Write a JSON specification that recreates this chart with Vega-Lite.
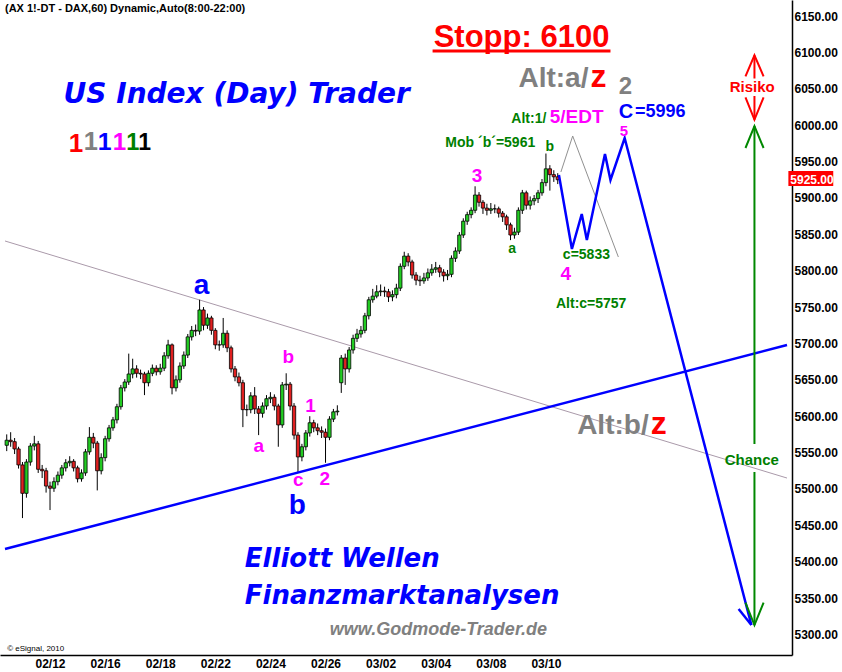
{
"$schema":"https://vega.github.io/schema/vega-lite/v6.json",
"width":792,"height":655,
"autosize":{"type":"none"},
"padding":{"left":0,"top":0,"right":50,"bottom":17},
"background":"white",
"config":{"view":{"stroke":null},"axis":{"grid":false,"ticks":false,"labelFont":"Liberation Sans","labelFontSize":12,"labelFontWeight":"bold","labelColor":"#000","domain":true,"domainColor":"#000","domainWidth":1.5,"title":null}},
"datasets":{
"bars":[
{"i":0,"o":5560,"h":5575,"l":5552,"c":5567},{"i":1,"o":5567,"h":5578,"l":5558,"c":5565},{"i":2,"o":5565,"h":5570,"l":5548,"c":5555},{"i":3,"o":5555,"h":5558,"l":5528,"c":5533},{"i":4,"o":5533,"h":5537,"l":5460,"c":5494},{"i":5,"o":5494,"h":5541,"l":5488,"c":5537},{"i":6,"o":5537,"h":5563,"l":5532,"c":5559},{"i":7,"o":5559,"h":5573,"l":5553,"c":5562},{"i":8,"o":5562,"h":5566,"l":5522,"c":5527},{"i":9,"o":5527,"h":5533,"l":5515,"c":5525},
{"i":10,"o":5525,"h":5529,"l":5495,"c":5504},{"i":11,"o":5504,"h":5510,"l":5471,"c":5501},{"i":12,"o":5501,"h":5516,"l":5496,"c":5510},{"i":13,"o":5510,"h":5524,"l":5505,"c":5519},{"i":14,"o":5519,"h":5533,"l":5514,"c":5529},{"i":15,"o":5529,"h":5541,"l":5524,"c":5536},{"i":16,"o":5536,"h":5545,"l":5531,"c":5538},{"i":17,"o":5538,"h":5541,"l":5524,"c":5529},{"i":18,"o":5529,"h":5532,"l":5509,"c":5514},{"i":19,"o":5514,"h":5527,"l":5510,"c":5522},
{"i":20,"o":5522,"h":5555,"l":5518,"c":5551},{"i":21,"o":5551,"h":5585,"l":5547,"c":5571},{"i":22,"o":5571,"h":5577,"l":5556,"c":5563},{"i":23,"o":5563,"h":5566,"l":5498,"c":5525},{"i":24,"o":5525,"h":5549,"l":5520,"c":5543},{"i":25,"o":5543,"h":5573,"l":5538,"c":5569},{"i":26,"o":5569,"h":5588,"l":5565,"c":5584},{"i":27,"o":5584,"h":5599,"l":5580,"c":5595},{"i":28,"o":5595,"h":5617,"l":5590,"c":5613},{"i":29,"o":5613,"h":5643,"l":5609,"c":5639},
{"i":30,"o":5639,"h":5651,"l":5634,"c":5647},{"i":31,"o":5647,"h":5686,"l":5643,"c":5658},{"i":32,"o":5658,"h":5679,"l":5652,"c":5665},{"i":33,"o":5665,"h":5670,"l":5653,"c":5659},{"i":34,"o":5659,"h":5664,"l":5651,"c":5658},{"i":35,"o":5658,"h":5661,"l":5629,"c":5646},{"i":36,"o":5646,"h":5663,"l":5641,"c":5659},{"i":37,"o":5659,"h":5671,"l":5655,"c":5666},{"i":38,"o":5666,"h":5670,"l":5656,"c":5661},{"i":39,"o":5661,"h":5672,"l":5657,"c":5666},
{"i":40,"o":5666,"h":5688,"l":5662,"c":5683},{"i":41,"o":5683,"h":5705,"l":5679,"c":5698},{"i":42,"o":5698,"h":5700,"l":5630,"c":5639},{"i":43,"o":5639,"h":5656,"l":5634,"c":5650},{"i":44,"o":5650,"h":5674,"l":5646,"c":5669},{"i":45,"o":5669,"h":5689,"l":5665,"c":5684},{"i":46,"o":5684,"h":5713,"l":5680,"c":5709},{"i":47,"o":5709,"h":5724,"l":5704,"c":5718},{"i":48,"o":5718,"h":5726,"l":5710,"c":5717},{"i":49,"o":5717,"h":5760,"l":5712,"c":5746},
{"i":50,"o":5746,"h":5750,"l":5718,"c":5725},{"i":51,"o":5725,"h":5741,"l":5720,"c":5735},{"i":52,"o":5735,"h":5738,"l":5712,"c":5718},{"i":53,"o":5718,"h":5721,"l":5692,"c":5698},{"i":54,"o":5698,"h":5704,"l":5690,"c":5698},{"i":55,"o":5698,"h":5735,"l":5694,"c":5714},{"i":56,"o":5714,"h":5718,"l":5688,"c":5694},{"i":57,"o":5694,"h":5697,"l":5660,"c":5665},{"i":58,"o":5665,"h":5669,"l":5648,"c":5654},{"i":59,"o":5654,"h":5660,"l":5641,"c":5646},
{"i":60,"o":5646,"h":5650,"l":5585,"c":5609},{"i":61,"o":5609,"h":5616,"l":5600,"c":5609},{"i":62,"o":5609,"h":5633,"l":5604,"c":5628},{"i":63,"o":5628,"h":5640,"l":5603,"c":5610},{"i":64,"o":5610,"h":5614,"l":5574,"c":5604},{"i":65,"o":5604,"h":5619,"l":5598,"c":5614},{"i":66,"o":5614,"h":5629,"l":5609,"c":5624},{"i":67,"o":5624,"h":5633,"l":5618,"c":5626},{"i":68,"o":5626,"h":5630,"l":5608,"c":5614},{"i":69,"o":5614,"h":5617,"l":5558,"c":5588},
{"i":70,"o":5588,"h":5647,"l":5584,"c":5643},{"i":71,"o":5643,"h":5659,"l":5636,"c":5644},{"i":72,"o":5644,"h":5647,"l":5608,"c":5614},{"i":73,"o":5614,"h":5618,"l":5568,"c":5574},{"i":74,"o":5574,"h":5578,"l":5522,"c":5544},{"i":75,"o":5544,"h":5562,"l":5538,"c":5558},{"i":76,"o":5558,"h":5581,"l":5553,"c":5577},{"i":77,"o":5577,"h":5600,"l":5572,"c":5591},{"i":78,"o":5591,"h":5595,"l":5578,"c":5584},{"i":79,"o":5584,"h":5590,"l":5574,"c":5580},
{"i":80,"o":5580,"h":5586,"l":5570,"c":5578},{"i":81,"o":5578,"h":5583,"l":5536,"c":5571},{"i":82,"o":5571,"h":5600,"l":5567,"c":5596},{"i":83,"o":5596,"h":5610,"l":5592,"c":5606},{"i":84,"o":5606,"h":5615,"l":5601,"c":5607},{"i":85,"o":5646,"h":5684,"l":5632,"c":5680},{"i":86,"o":5680,"h":5686,"l":5643,"c":5665},{"i":87,"o":5665,"h":5695,"l":5660,"c":5691},{"i":88,"o":5691,"h":5712,"l":5686,"c":5707},{"i":89,"o":5707,"h":5720,"l":5702,"c":5713},
{"i":90,"o":5713,"h":5724,"l":5708,"c":5718},{"i":91,"o":5718,"h":5742,"l":5714,"c":5738},{"i":92,"o":5738,"h":5764,"l":5733,"c":5760},{"i":93,"o":5760,"h":5775,"l":5756,"c":5765},{"i":94,"o":5765,"h":5780,"l":5762,"c":5771},{"i":95,"o":5771,"h":5781,"l":5765,"c":5772},{"i":96,"o":5772,"h":5778,"l":5764,"c":5771},{"i":97,"o":5771,"h":5775,"l":5757,"c":5764},{"i":98,"o":5764,"h":5773,"l":5758,"c":5767},{"i":99,"o":5767,"h":5782,"l":5762,"c":5776},
{"i":100,"o":5776,"h":5810,"l":5772,"c":5806},{"i":101,"o":5806,"h":5826,"l":5802,"c":5820},{"i":102,"o":5820,"h":5824,"l":5806,"c":5812},{"i":103,"o":5812,"h":5815,"l":5789,"c":5794},{"i":104,"o":5794,"h":5798,"l":5780,"c":5787},{"i":105,"o":5787,"h":5793,"l":5779,"c":5786},{"i":106,"o":5786,"h":5797,"l":5782,"c":5790},{"i":107,"o":5790,"h":5803,"l":5786,"c":5797},{"i":108,"o":5797,"h":5809,"l":5793,"c":5802},{"i":109,"o":5802,"h":5812,"l":5797,"c":5804},
{"i":110,"o":5804,"h":5808,"l":5791,"c":5798},{"i":111,"o":5798,"h":5802,"l":5785,"c":5793},{"i":112,"o":5793,"h":5801,"l":5787,"c":5795},{"i":113,"o":5795,"h":5821,"l":5791,"c":5817},{"i":114,"o":5817,"h":5832,"l":5812,"c":5827},{"i":115,"o":5827,"h":5853,"l":5823,"c":5849},{"i":116,"o":5849,"h":5872,"l":5845,"c":5868},{"i":117,"o":5868,"h":5881,"l":5863,"c":5877},{"i":118,"o":5877,"h":5887,"l":5872,"c":5883},{"i":119,"o":5883,"h":5916,"l":5879,"c":5904},
{"i":120,"o":5904,"h":5908,"l":5888,"c":5894},{"i":121,"o":5894,"h":5897,"l":5878,"c":5886},{"i":122,"o":5886,"h":5892,"l":5876,"c":5883},{"i":123,"o":5883,"h":5893,"l":5878,"c":5885},{"i":124,"o":5885,"h":5891,"l":5879,"c":5885},{"i":125,"o":5885,"h":5888,"l":5873,"c":5879},{"i":126,"o":5879,"h":5882,"l":5867,"c":5874},{"i":127,"o":5874,"h":5877,"l":5856,"c":5863},{"i":128,"o":5863,"h":5866,"l":5842,"c":5849},{"i":129,"o":5849,"h":5859,"l":5844,"c":5853},
{"i":130,"o":5853,"h":5887,"l":5849,"c":5883},{"i":131,"o":5883,"h":5911,"l":5878,"c":5907},{"i":132,"o":5907,"h":5910,"l":5884,"c":5890},{"i":133,"o":5890,"h":5902,"l":5884,"c":5896},{"i":134,"o":5896,"h":5904,"l":5890,"c":5899},{"i":135,"o":5899,"h":5911,"l":5893,"c":5907},{"i":136,"o":5907,"h":5926,"l":5903,"c":5921},{"i":137,"o":5921,"h":5961,"l":5916,"c":5940},{"i":138,"o":5940,"h":5945,"l":5910,"c":5932},{"i":139,"o":5932,"h":5938,"l":5922,"c":5929},
{"i":140,"o":5929,"h":5934,"l":5919,"c":5925}
],
"lines":[
{"g":"tg","n":0,"i":-0.44,"v":5840.8},{"g":"tg","n":1,"i":198.25,"v":5515.0},
{"g":"tb","n":0,"i":-0.44,"v":5417.5},{"g":"tb","n":1,"i":198.25,"v":5697.8},
{"g":"pg","n":0,"i":140.8,"v":5935.6},{"g":"pg","n":1,"i":143.8,"v":5985.1},{"g":"pg","n":2,"i":155.4,"v":5818.8},
{"g":"pb","n":0,"i":140.3,"v":5931.5},{"g":"pb","n":1,"i":143.6,"v":5829.8},{"g":"pb","n":2,"i":146.1,"v":5877.9},{"g":"pb","n":3,"i":147.4,"v":5842.1},{"g":"pb","n":4,"i":152.0,"v":5960.3},{"g":"pb","n":5,"i":153.4,"v":5924.6},{"g":"pb","n":6,"i":157.0,"v":5982.3},{"g":"pb","n":7,"i":189.2,"v":5313.0},
{"g":"bh","n":0,"i":185.96,"v":5335.0},{"g":"bh","n":1,"i":189.2,"v":5313.0},
{"g":"gs1","n":0,"i":189.98,"v":5998.8},{"g":"gs1","n":1,"i":189.98,"v":5561.8},
{"g":"gs2","n":0,"i":189.98,"v":5523.3},{"g":"gs2","n":1,"i":189.98,"v":5313.0},
{"g":"gh1","n":0,"i":187.7,"v":5968.6},{"g":"gh1","n":1,"i":189.98,"v":5998.8},{"g":"gh1","n":2,"i":192.3,"v":5968.6},
{"g":"gh2","n":0,"i":187.7,"v":5343.8},{"g":"gh2","n":1,"i":189.98,"v":5313.0},{"g":"gh2","n":2,"i":192.3,"v":5343.8},
{"g":"rs1","n":0,"i":189.98,"v":6096.0},{"g":"rs1","n":1,"i":189.98,"v":6064.1},
{"g":"rs2","n":0,"i":189.98,"v":6040.1},{"g":"rs2","n":1,"i":189.98,"v":6007.6},
{"g":"rh1","n":0,"i":187.7,"v":6067.0},{"g":"rh1","n":1,"i":189.98,"v":6096.0},{"g":"rh1","n":2,"i":192.3,"v":6067.0},
{"g":"rh2","n":0,"i":187.7,"v":6038.1},{"g":"rh2","n":1,"i":189.98,"v":6007.6},{"g":"rh2","n":2,"i":192.3,"v":6038.1},
{"g":"ul","n":0,"i":108.2,"v":6101.9},{"g":"ul","n":1,"i":153.4,"v":6101.9}
]
},
"encoding":{
"x":{"field":"i","type":"quantitative","scale":{"domain":[-0.44,198.25],"nice":false,"zero":false},"axis":{"values":[11,25,39,53,67,81,95,109,123,137],"labelExpr":"['02/12','02/16','02/18','02/22','02/24','02/26','03/02','03/04','03/08','03/10'][(datum.value-11)/14]","labelPadding":3,"orient":"bottom"}},
"y":{"field":"v","type":"quantitative","scale":{"domain":[5271.8,6172],"nice":false,"zero":false},"axis":{"orient":"right","values":[5300,5350,5400,5450,5500,5550,5600,5650,5700,5750,5800,5850,5900,5950,6000,6050,6100,6150],"format":".2f","labelPadding":2}}
},
"layer":[
{"data":{"name":"lines"},"transform":[{"filter":{"field":"g","equal":"tg"}}],"mark":{"type":"line","color":"#aa9aaa","strokeWidth":1},"encoding":{"detail":{"field":"g"},"order":{"field":"n"}}},
{"data":{"name":"bars"},"mark":{"type":"rule","color":"#000","strokeWidth":1},"encoding":{"y":{"field":"l","type":"quantitative","scale":{"domain":[5271.8,6172],"nice":false,"zero":false},"axis":{"orient":"right","values":[5300,5350,5400,5450,5500,5550,5600,5650,5700,5750,5800,5850,5900,5950,6000,6050,6100,6150],"format":".2f","labelPadding":2}},"y2":{"field":"h"}}},
{"data":{"name":"bars"},"mark":{"type":"bar","width":3.3,"stroke":"#000","strokeWidth":0.8},"encoding":{"y":{"field":"o","type":"quantitative","scale":{"domain":[5271.8,6172],"nice":false,"zero":false},"axis":{"orient":"right","values":[5300,5350,5400,5450,5500,5550,5600,5650,5700,5750,5800,5850,5900,5950,6000,6050,6100,6150],"format":".2f","labelPadding":2}},"y2":{"field":"c"},"color":{"condition":{"test":"datum.c >= datum.o","value":"#22cc22"},"value":"#e02020"}}},
{"data":{"name":"lines"},"transform":[{"filter":{"field":"g","equal":"pg"}}],"mark":{"type":"line","color":"#909090","strokeWidth":1},"encoding":{"detail":{"field":"g"},"order":{"field":"n"}}},
{"data":{"name":"lines"},"transform":[{"filter":{"field":"g","oneOf":["tb","pb","bh"]}}],"mark":{"type":"line","color":"#0000ff","strokeWidth":2.5},"encoding":{"detail":{"field":"g"},"order":{"field":"n"}}},
{"data":{"name":"lines"},"transform":[{"filter":{"field":"g","oneOf":["gs1","gs2","gh1","gh2"]}}],"mark":{"type":"line","color":"#008800","strokeWidth":2},"encoding":{"detail":{"field":"g"},"order":{"field":"n"}}},
{"data":{"name":"lines"},"transform":[{"filter":{"field":"g","oneOf":["rs1","rs2","rh1","rh2"]}}],"mark":{"type":"line","color":"#ff0000","strokeWidth":2},"encoding":{"detail":{"field":"g"},"order":{"field":"n"}}},
{"data":{"name":"lines"},"transform":[{"filter":{"field":"g","equal":"ul"}}],"mark":{"type":"line","color":"#ff0000","strokeWidth":3},"encoding":{"detail":{"field":"g"},"order":{"field":"n"}}},
{"data":{"values":[{"i":198.6,"i2":210.0,"v":5937.0,"v2":5916.4}]},"mark":{"type":"rect","color":"#ff0000"},"encoding":{"x2":{"field":"i2"},"y2":{"field":"v2"}}},
{"data":{"values":[{"t":"5925.00","i":199.1,"v":5925}]},"mark":{"type":"text","font":"Liberation Sans","fontSize":12,"fontWeight":"bold","color":"#ffffff","align":"left","baseline":"middle"},"encoding":{"text":{"field":"t"}}},
{"data":{"values":[{"t":"(AX 1!-DT - DAX,60) Dynamic,Auto(8:00-22:00)","i":-0.44,"v":6155.5}]},"mark":{"type":"text","font":"Liberation Sans","fontSize":11,"fontWeight":"bold","color":"#000","align":"left","baseline":"alphabetic"},"encoding":{"text":{"field":"t"}}},
{"data":{"values":[{"t":"© eSignal, 2010","i":0.1,"v":5277.3}]},"mark":{"type":"text","font":"Liberation Sans","fontSize":8,"color":"#000","align":"left","baseline":"alphabetic"},"encoding":{"text":{"field":"t"}}},
{"data":{"values":[{"t":"US Index (Day) Trader","i":14.44,"v":6030}]},"mark":{"type":"text","font":"DejaVu Sans","fontSize":28,"fontWeight":"bold","fontStyle":"italic","color":"#0000ff","align":"left","baseline":"alphabetic"},"encoding":{"text":{"field":"t"}}},
{"data":{"values":[{"t":"Elliott Wellen","i":60.5,"v":5392.7},{"t":"Finanzmarktanalysen","i":60.5,"v":5341.9}]},"mark":{"type":"text","font":"DejaVu Sans","fontSize":26,"fontWeight":"bold","fontStyle":"italic","color":"#0000ff","align":"left","baseline":"alphabetic"},"encoding":{"text":{"field":"t"}}},
{"data":{"values":[{"t":"www.Godmode-Trader.de","i":82.1,"v":5299.3}]},"mark":{"type":"text","font":"Liberation Sans","fontSize":18,"fontWeight":"bold","fontStyle":"italic","color":"#808080","align":"left","baseline":"alphabetic"},"encoding":{"text":{"field":"t"}}},
{"data":{"values":[{"t":"Stopp: 6100","i":130.8,"v":6107.4}]},"mark":{"type":"text","font":"Liberation Sans","fontSize":31,"fontWeight":"bold","color":"#ff0000","align":"center","baseline":"alphabetic"},"encoding":{"text":{"field":"t"}}},
{"data":{"values":[{"t":"Alt:a/","i":147.8,"v":6052.4},{"t":"Alt:b/","i":163.1,"v":5575.5}]},"mark":{"type":"text","font":"Liberation Sans","fontSize":28,"fontWeight":"bold","color":"#808080","align":"right","baseline":"alphabetic"},"encoding":{"text":{"field":"t"}}},
{"data":{"values":[{"t":"z","i":148.3,"v":6052.4},{"t":"z","i":163.6,"v":5575.5}]},"mark":{"type":"text","font":"Liberation Sans","fontSize":32,"fontWeight":"bold","color":"#ff0000","align":"left","baseline":"alphabetic"},"encoding":{"text":{"field":"t"}}},
{"data":{"values":[{"t":"2","i":157.2,"v":6042.8}]},"mark":{"type":"text","font":"Liberation Sans","fontSize":24,"fontWeight":"bold","color":"#808080","align":"center","baseline":"alphabetic"},"encoding":{"text":{"field":"t"}}},
{"data":{"values":[{"t":"C","i":155.5,"v":6010.5}]},"mark":{"type":"text","font":"Liberation Sans","fontSize":20,"fontWeight":"bold","color":"#0000ff","align":"left","baseline":"alphabetic"},"encoding":{"text":{"field":"t"}}},
{"data":{"values":[{"t":"=5996","i":159.6,"v":6011.2}]},"mark":{"type":"text","font":"Liberation Sans","fontSize":18,"fontWeight":"bold","color":"#0000ff","align":"left","baseline":"alphabetic"},"encoding":{"text":{"field":"t"}}},
{"data":{"values":[{"t":"Alt:1/","i":137.1,"v":6002.5}]},"mark":{"type":"text","font":"Liberation Sans","fontSize":14,"fontWeight":"bold","color":"#008000","align":"right","baseline":"alphabetic"},"encoding":{"text":{"field":"t"}}},
{"data":{"values":[{"t":"5/EDT","i":137.96,"v":6002.5}]},"mark":{"type":"text","font":"Liberation Sans","fontSize":19,"fontWeight":"bold","color":"#ff00ff","align":"left","baseline":"alphabetic"},"encoding":{"text":{"field":"t"}}},
{"data":{"values":[{"t":"Mob ´b´=5961","i":111.45,"v":5970.4},{"t":"c=5833","i":141.3,"v":5816.0},{"t":"Alt:c=5757","i":139.55,"v":5748.7}]},"mark":{"type":"text","font":"Liberation Sans","fontSize":14,"fontWeight":"bold","color":"#008000","align":"left","baseline":"alphabetic"},"encoding":{"text":{"field":"t"}}},
{"data":{"values":[{"t":"b","i":137.96,"v":5964.9},{"t":"a","i":128.4,"v":5824.3}]},"mark":{"type":"text","font":"Liberation Sans","fontSize":14,"fontWeight":"bold","color":"#008000","align":"center","baseline":"alphabetic"},"encoding":{"text":{"field":"t"}}},
{"data":{"values":[{"t":"3","i":119.48,"v":5921.9},{"t":"4","i":142.06,"v":5787.2},{"t":"b","i":71.56,"v":5673.1},{"t":"a","i":64.03,"v":5550.8},{"t":"1","i":77.2,"v":5605.8},{"t":"c","i":74.07,"v":5504.0},{"t":"2","i":80.84,"v":5505.4}]},"mark":{"type":"text","font":"Liberation Sans","fontSize":19,"fontWeight":"bold","color":"#ff00ff","align":"center","baseline":"alphabetic"},"encoding":{"text":{"field":"t"}}},
{"data":{"values":[{"t":"5","i":156.8,"v":5985.1}]},"mark":{"type":"text","font":"Liberation Sans","fontSize":15,"fontWeight":"bold","color":"#ff00ff","align":"center","baseline":"alphabetic"},"encoding":{"text":{"field":"t"}}},
{"data":{"values":[{"t":"a","i":49.48,"v":5767.9},{"t":"b","i":73.82,"v":5465.5}]},"mark":{"type":"text","font":"Liberation Sans","fontSize":28,"fontWeight":"bold","color":"#0000ff","align":"center","baseline":"alphabetic"},"encoding":{"text":{"field":"t"}}},
{"data":{"values":[{"t":"1","k":"1","i":17.62,"v":5963.5},{"t":"1","k":"2","i":21.38,"v":5965.8},{"t":"1","k":"3","i":24.9,"v":5965.8},{"t":"1","k":"4","i":28.66,"v":5965.8},{"t":"1","k":"5","i":32.05,"v":5965.8},{"t":"1","k":"6","i":35.06,"v":5965.8}]},"mark":{"type":"text","font":"Liberation Sans","fontWeight":"bold","align":"center","baseline":"alphabetic"},"encoding":{"text":{"field":"t"},"color":{"field":"k","type":"nominal","scale":{"domain":["1","2","3","4","5","6"],"range":["#ff0000","#808080","#0000ff","#ff00ff","#008000","#000000"]},"legend":null},"size":{"field":"k","type":"nominal","scale":{"domain":["1","2","3","4","5","6"],"range":[26,23,17,17,16,15]},"legend":null}}},
{"data":{"values":[{"t":"Risiko","i":189.4,"v":6052.4}]},"mark":{"type":"text","font":"Liberation Sans","fontSize":15,"fontWeight":"bold","color":"#ff0000","align":"center","baseline":"middle"},"encoding":{"text":{"field":"t"}}},
{"data":{"values":[{"t":"Chance","i":189.3,"v":5539.8}]},"mark":{"type":"text","font":"Liberation Sans","fontSize":15,"fontWeight":"bold","color":"#008000","align":"center","baseline":"middle"},"encoding":{"text":{"field":"t"}}}
]
}
